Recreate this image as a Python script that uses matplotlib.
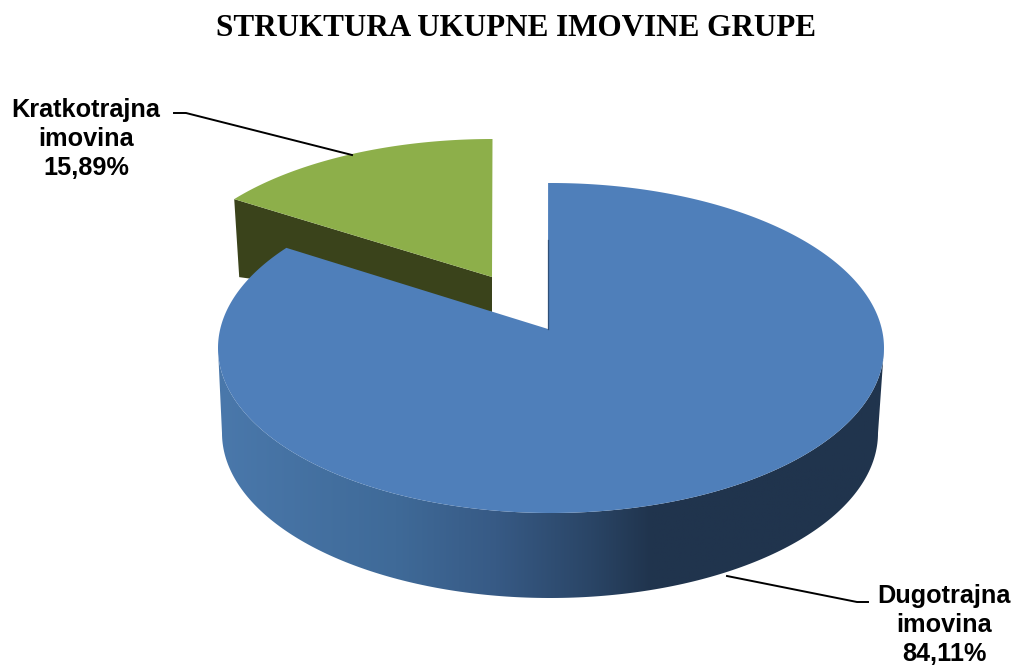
# -*- coding: utf-8 -*-
import numpy as np
import matplotlib
matplotlib.use("Agg")
import matplotlib.pyplot as plt
from matplotlib.colors import LinearSegmentedColormap
from matplotlib.patches import Polygon

title = "STRUKTURA UKUPNE IMOVINE GRUPE"
names = ["Dugotrajna\nimovina", "Kratkotrajna\nimovina"]
shares = [84.11, 15.89]

BLUE = "#4f7fba"
GREEN = "#8daf4a"
DARK_GREEN = "#3a431b"


def rim(cx, cy, rx, ry, deg):
    t = np.radians(deg)
    return cx + rx * np.cos(t), cy - ry * np.sin(t)


fig = plt.figure(figsize=(10.15, 6.65), dpi=100)
ax = fig.add_axes([0, 0, 1, 1])

# pie starts at 12 o'clock and the small slice sits left of it; 0.92 = foreshortening at the back
start = 90.5
split = 90 + shares[1] * 3.6 * 0.92

# ── green slice, pulled out ───────────────────────────────────────────────
gx, gy = rim(492.5, 292, 325, 153, np.linspace(90, split, 80))
apex_g = (492, 277)
ax.add_patch(Polygon([(gx[-1], gy[-1]), (gx[-1] + 5, gy[-1] + 78), (apex_g[0], apex_g[1] + 35), apex_g],
                     fc=DARK_GREEN, ec="none", zorder=1))
ax.add_patch(Polygon(np.r_[np.c_[gx, gy], [apex_g]], fc=GREEN, ec="none", zorder=2))

# ── blue wall, shaded left to right ───────────────────────────────────────
cx, cy, rx, ry = 551, 348, 333, 165
tx, ty = rim(cx, cy, rx, ry, np.linspace(180, 360, 200))
bx, by = rim(550, 433, 328, 165, np.linspace(360, 180, 200))
wall = Polygon(np.r_[np.c_[tx, ty], np.c_[bx, by]], fc="none", ec="none")
ax.add_patch(wall)
cmap = LinearSegmentedColormap.from_list(
    "wall", [(0, "#4a78ab"), (0.41, "#3f6a98"), (0.64, "#375a85"), (0.86, "#2a4566"), (1, "#20344d")])
grad = np.r_[np.linspace(0, 1, 256), np.ones(136)].reshape(1, -1)  # flat dark part right of x=660
im = ax.imshow(grad, extent=(218, 884, 600, 340), cmap=cmap, aspect="auto", zorder=3)
im.set_clip_path(wall)

# ── blue top ──────────────────────────────────────────────────────────────
ux, uy = rim(cx, cy, rx, ry, np.linspace(split, 360 + start, 400))
apex_b = (548, 329)
ax.add_patch(Polygon(np.r_[np.c_[ux, uy], [apex_b]], fc=BLUE, ec="none", zorder=4))
ax.plot([548, 548], [240, 329], color="#2f4f78", lw=0.9, zorder=5)

# ── leader lines and labels ───────────────────────────────────────────────
ax.plot([174, 186, 352], [113, 113, 155], color="black", lw=1.4, zorder=6)
ax.plot([727, 857, 868], [576, 602, 602], color="black", lw=1.4, zorder=6)

label_font = dict(family="Liberation Sans", fontweight="bold", fontsize=18.2, ha="center", va="center",
                  linespacing=1.25, color="black")
ax.text(86, 139, f"{names[1]}\n{shares[1]:.2f}%".replace(".", ","), **label_font)
ax.text(944, 625, f"{names[0]}\n{shares[0]:.2f}%".replace(".", ","), **label_font)

ax.text(516, 29, title, family="Liberation Serif", fontweight="bold", fontsize=22.4,
        ha="center", va="center", color="black")

ax.set_xlim(0, 1015)
ax.set_ylim(665, 0)
ax.axis("off")

fig.savefig("out.png", dpi=100, facecolor="white")
